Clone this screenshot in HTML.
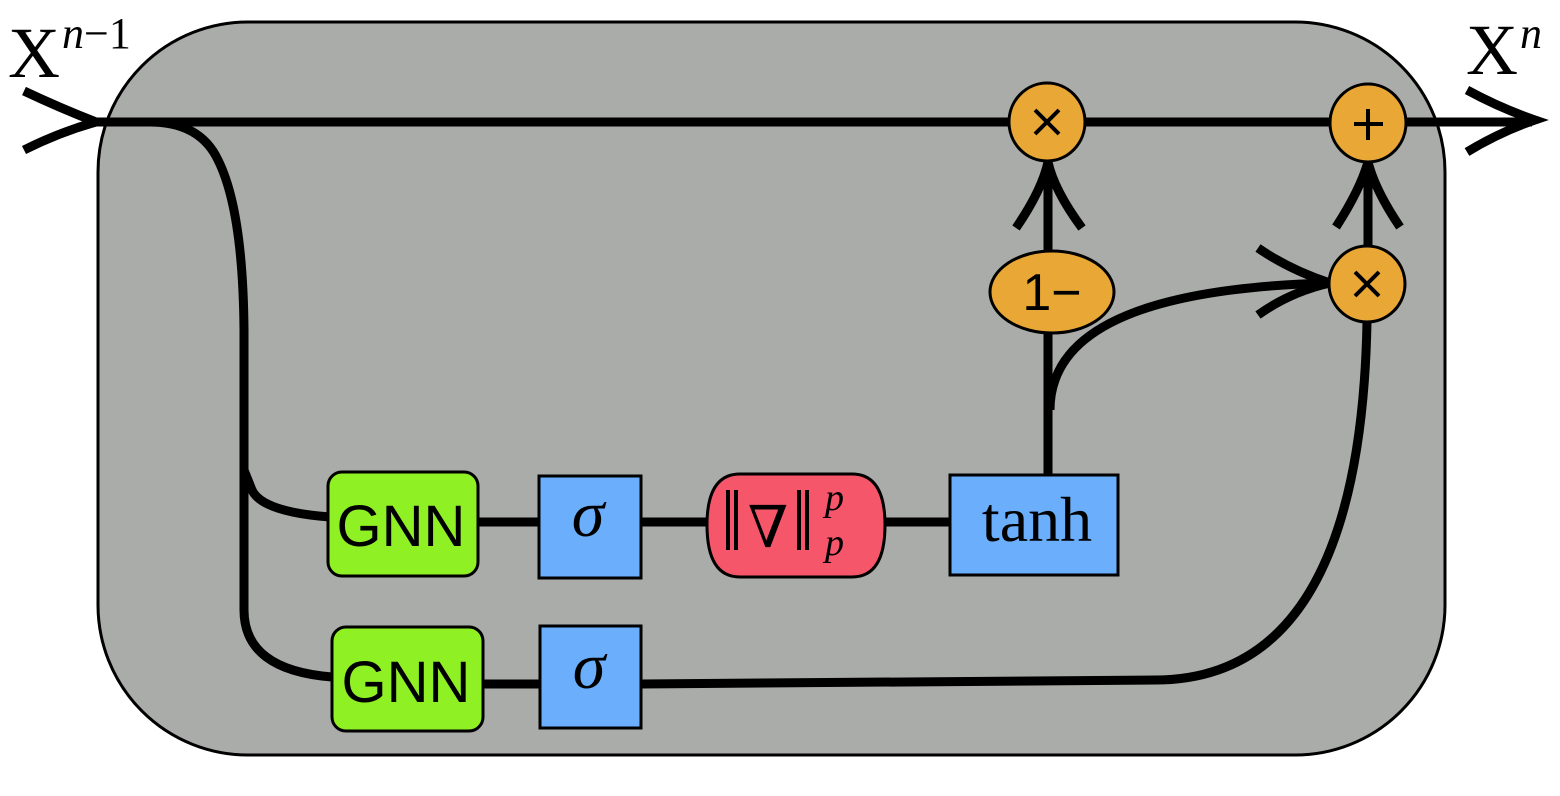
<!DOCTYPE html>
<html><head><style>html,body{margin:0;padding:0;background:#fff}svg{display:block}</style></head><body>
<svg width="1560" height="796" viewBox="0 0 1560 796" xmlns="http://www.w3.org/2000/svg">
<rect x="98" y="22" width="1347" height="733" rx="150" ry="150" fill="#aaaca9" stroke="#000" stroke-width="3"/>
<g fill="none" stroke="#000" stroke-width="9" stroke-linecap="butt">
<line x1="90" y1="122" x2="1532" y2="122"/>
<path d="M24 91 Q60 108 96 122 Q60 132 24 150"/>
<path d="M1467 90 Q1500 108 1535 120 Q1500 132 1467 152"/>
<path d="M150 122 Q200 122 218 160 Q243 210 244 330 L244 610 Q244 670 332 677"/>
<path d="M244 470 Q248 480 252 490 Q262 512 330 517"/>
<line x1="478" y1="522" x2="540" y2="522"/>
<line x1="640" y1="522" x2="708" y2="522"/>
<line x1="884" y1="522" x2="952" y2="522"/>
<line x1="483" y1="684" x2="540" y2="684"/>
<path d="M641 684 L1155 680 Q1360 680 1367 322"/>
<line x1="1048" y1="474" x2="1048" y2="330"/>
<line x1="1048" y1="252" x2="1048" y2="160"/>
<path d="M1016 228 Q1042 190 1048 162 Q1054 190 1082 228"/>
<line x1="1368" y1="248" x2="1368" y2="160"/>
<path d="M1336 227 Q1360 190 1368 162 Q1375 190 1400 227"/>
<path d="M1050 410 Q1050 290 1330 283"/>
<path d="M1258 248 Q1290 270 1330 283 Q1290 292 1258 315"/>
</g>
<g stroke="#000" stroke-width="3">
<ellipse cx="1047" cy="122" rx="38" ry="39" fill="#e9a736"/>
<ellipse cx="1368" cy="123" rx="38" ry="39" fill="#e9a736"/>
<ellipse cx="1367" cy="284" rx="38" ry="38" fill="#e9a736"/>
<ellipse cx="1052" cy="292" rx="62" ry="41" fill="#e9a736"/>
<rect x="328" y="472" width="150" height="104" rx="14" fill="#8ff024"/>
<rect x="332" y="627" width="151" height="104" rx="14" fill="#8ff024"/>
<rect x="539" y="476" width="102" height="102" fill="#6aaefc"/>
<rect x="540" y="626" width="101" height="102" fill="#6aaefc"/>
<rect x="950" y="475" width="168" height="100" fill="#6aaefc"/>
<path d="M740 474 L852 474 Q885 474 885 525 Q885 577 852 577 L740 577 Q707 577 707 525 Q707 474 740 474 Z" fill="#f5566a"/>
</g>
<g stroke="#000" stroke-width="4" fill="none">
<path d="M1035 110 L1059 134 M1059 110 L1035 134"/>
<path d="M1355 272 L1379 296 M1379 272 L1355 296"/>
<path d="M1354 124 L1383 124 M1368 109 L1368 140"/>
<path d="M728 490 V550 M736 490 V550 M799 490 V550 M807 490 V550"/>
</g>
<g font-family="Liberation Sans, sans-serif" fill="#000" text-anchor="middle">
<text x="401" y="546" font-size="58">GNN</text>
<text x="406" y="702" font-size="58">GNN</text>
<text x="1052" y="310" font-size="52">1−</text>
</g>
<g font-family="Liberation Serif, serif" fill="#000">
<text x="588" y="536" font-size="66" font-style="italic" text-anchor="middle">σ</text>
<text x="589" y="688" font-size="66" font-style="italic" text-anchor="middle">σ</text>
<text x="1037" y="541" font-size="64" text-anchor="middle">tanh</text>
<text x="768" y="547" font-size="58" font-family="DejaVu Serif, serif" text-anchor="middle">∇</text>
<text x="825" y="510" font-size="38" font-style="italic">p</text>
<text x="825" y="555" font-size="38" font-style="italic">p</text>
<text x="8" y="77" font-size="72">X</text>
<text x="62" y="48" font-size="44" font-style="italic">n</text>
<text x="84" y="48" font-size="44">−1</text>
<text x="1466" y="74" font-size="72">X</text>
<text x="1520" y="48" font-size="44" font-style="italic">n</text>
</g>
</svg>
</body></html>
